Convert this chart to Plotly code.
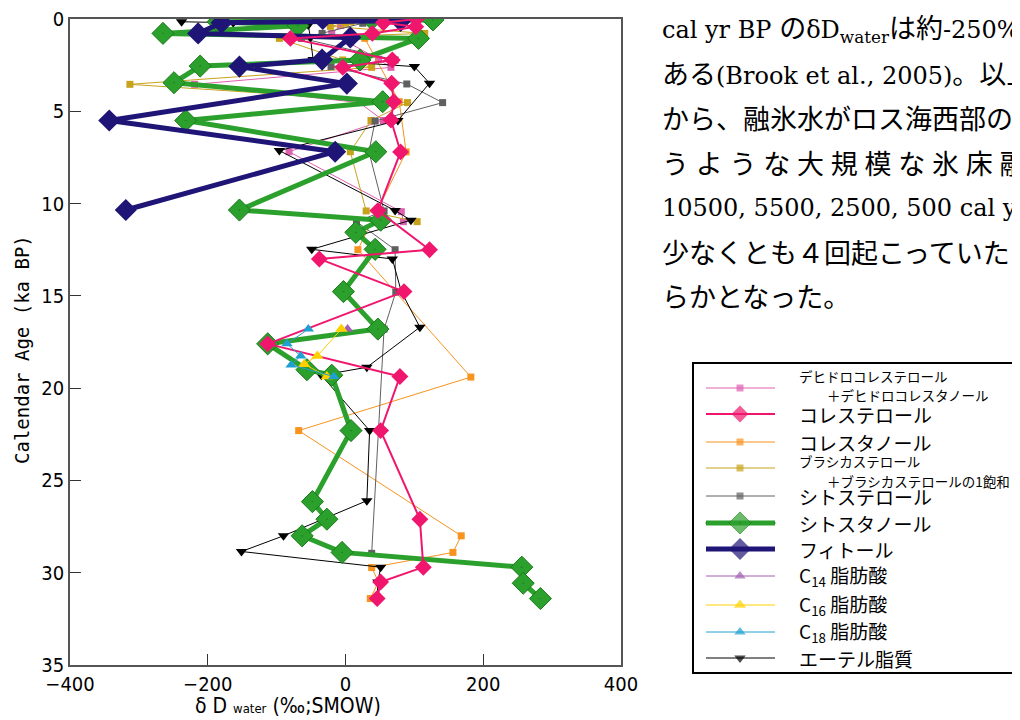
import plotly.graph_objects as go

# ---------------- data (age ka BP, dD water permil) ----------------
dehydro_age = [0.05, 0.35, 0.78, 2.18, 2.62, 3.54, 4.53, 5.5, 7.19, 10.44, 10.98]
dehydro_dD = [15, -7, -20, 48, 66, -219, 20, 55, -82, 81, 84]

cholesterol_age = [0.0, 0.2, 0.42, 0.78, 1.05, 2.22, 2.62, 3.48, 4.48, 5.47, 7.2, 10.38,
                   12.5, 13.0, 14.77, 17.6, 19.37, 22.3, 27.1, 29.7, 30.5, 31.4]
cholesterol_dD = [103, 55, 102, 39, -80, 68, -4, 67, 70, 66, 80, 47,
                  122, -38, 85, -113, 79, 51, 108, 113, 51, 46]

cholestanol_age = [1.05, 4.48, 7.2, 12.5, 19.4, 22.3, 28.0, 28.9, 29.72, 30.5, 31.4]
cholestanol_dD = [28, 78, 88, 18, 182, -68, 168, 156, 38, 48, 36]

brassica_age = [0.0, 0.15, 0.23, 0.4, 0.78, 1.05, 2.22, 2.62, 3.54, 4.53, 5.5, 7.19, 10.4, 10.98]
brassica_dD = [-21, 8, 0, -22, 115, -96, -4, 38, -313, 90, 37, 7, 30, 104]

sitosterol_age = [0.23, 0.78, 1.05, 2.22, 2.58, 3.52, 4.53, 5.53, 7.19, 10.4, 10.98, 12.5, 14.8, 16.8, 28.95]
sitosterol_dD = [25, -34, -64, 72, -21, 89, 141, 43, 34, 56, 16, 72, 73, 56, 38]

sitostanol_age = [0.0, 0.05, 0.15, 0.36, 0.78, 1.05, 2.22, 2.55, 3.45, 4.48, 5.5, 7.19, 10.35, 10.9,
                  11.56, 12.48, 14.77, 16.8, 17.6, 19.0, 19.3, 22.3, 26.15, 27.1, 28.0, 28.9, 29.7, 30.57, 31.4]
sitostanol_dD = [38, 127, -185, -69, -265, 106, 21, -211, -249, 54, -232, 44, -154, 51,
                 15, 43, -3, 47, -113, -56, -20, 8, -48, -27, -63, -5, 256, 258, 283]

phytol_age = [0.0, 0.1, 0.2, 0.78, 1.0, 2.2, 2.58, 3.5, 5.5, 7.19, 10.35]
phytol_dD = [-33, 80, -180, -214, 7, -34, -154, 2, -343, -15, -319]

c14_age = [16.8]
c14_dD = [3]

c16_age = [16.8, 18.26, 18.7, 19.37]
c16_dD = [-6, -41, -60, -27]

c18_age = [16.8, 17.6, 18.26, 18.74, 19.37]
c18_dD = [-54, -85, -65, -79, -17]

ether_age = [0.15, 0.2, 0.33, 1.0, 2.2, 2.58, 3.48, 5.5, 7.13, 10.38, 10.9, 12.48, 13.0, 14.77,
             16.7, 18.87, 19.3, 22.3, 26.1, 28.0, 28.85, 29.7, 30.5, 31.4]
ether_dD = [-238, -163, -54, -51, -47, 100, 122, 76, -96, 72, 95, -49, 68, 81,
            108, 31, -35, 35, 31, -90, -151, 51, 47, 46]

x_ticks = [-400, -200, 0, 200, 400]
x_ticktext = ["\u2212400", "\u2212200", "0", "200", "400"]
y_ticks = [0, 5, 10, 15, 20, 25, 30, 35]

legend_labels = [
    ("デヒドロコレステロール", "＋デヒドロコレスタノール"),
    ("コレステロール", None),
    ("コレスタノール", None),
    ("ブラシカステロール", "＋ブラシカステロールの1飽和"),
    ("シトステロール", None),
    ("シトスタノール", None),
    ("フィトール", None),
    ("C<sub>14</sub> 脂肪酸", None),
    ("C<sub>16</sub> 脂肪酸", None),
    ("C<sub>18</sub> 脂肪酸", None),
    ("エーテル脂質", None),
]

J = "<span style='font-size:27px'>{}</span>"
body_lines = [
    ("cal yr BP " + J.format("の") + "δD<sub>water</sub>" + J.format("は約") + "-250‰" + J.format("であった"), 24),
    (J.format("ある") + "(Brook et al., 2005)" + J.format("。以上の"), 24),
    ("から、融氷水がロス海西部の表層", 27),
    ("う\u2005よ\u2005う\u2005な\u2005大\u2005規\u2005模\u2005な\u2005氷\u2005床\u2005融\u2005解", 27),
    ("10500, 5500, 2500, 500 cal yr BP", 24),
    ("少なくとも４回起こっていたことが", 27),
    ("らかとなった。", 27),
]

# ---------------- styles ----------------
series = [
    ("dehydro", dehydro_dD, dehydro_age, "#e060b0", 1, "square", 7),
    ("cholestanol", cholestanol_dD, cholestanol_age, "#f7931e", 1, "square", 7),
    ("brassica", brassica_dD, brassica_age, "#c9a21c", 1, "square", 7),
    ("sitosterol", sitosterol_dD, sitosterol_age, "#606060", 1, "square", 7),
    ("ether", ether_dD, ether_age, "#000000", 1, "triangle-down", 10),
    ("sitostanol", sitostanol_dD, sitostanol_age, "#2ca02c", 5, "diamond-dot", 17),
    ("phytol", phytol_dD, phytol_age, "#1f1577", 5, "diamond", 17),
    ("cholesterol", cholesterol_dD, cholesterol_age, "#f0166e", 2, "diamond", 13),
    ("c14", c14_dD, c14_age, "#a060b0", 1, "triangle-up", 10),
    ("c16", c16_dD, c16_age, "#ffd000", 1, "triangle-up", 11),
    ("c18", c18_dD, c18_age, "#20a0d0", 1, "triangle-up", 10),
]
style = {s[0]: s for s in series}

fig = go.Figure()
for name, xs, ys, col, lw, sym, sz in series:
    mline = dict(color="#1a7a1a", width=1) if name == "sitostanol" else dict(width=0)
    fig.add_trace(go.Scatter(
        x=xs, y=ys, mode="lines+markers", name=name, showlegend=False,
        line=dict(color=col, width=lw),
        marker=dict(symbol=sym, size=sz, color=col, line=mline),
        xaxis="x", yaxis="y"))

# ---------------- custom legend (on its own axes) ----------------
legend_order = ["dehydro", "cholesterol", "cholestanol", "brassica", "sitosterol",
                "sitostanol", "phytol", "c14", "c16", "c18", "ether"]
legend_y = [26, 52, 80, 106, 134, 161, 187, 214, 243, 270, 296]
for key, ly in zip(legend_order, legend_y):
    _, _, _, col, lw, sym, sz = style[key]
    mline = dict(color="#1a7a1a", width=1) if key == "sitostanol" else dict(width=0)
    fig.add_trace(go.Scatter(
        x=[14, 48, 83], y=[ly, ly, ly], mode="lines+markers", showlegend=False,
        line=dict(color=col, width=lw),
        marker=dict(symbol=sym, size=[0, sz, 0], color=col, line=mline),
        xaxis="x2", yaxis="y2", hoverinfo="skip"))

# page offset: the browser page has an 8px body margin
OFF = 8
W, H = 1020 - OFF, 720 - OFF
L, R, T, B = 62, 2, 11, 45
pw, ph = W - L - R, H - T - B


def px_x(p):
    return (p - OFF - L) / pw


def px_y(p):
    return (H - B - (p - OFF)) / ph


annotations = []
two_line_offsets = {"dehydro": (-12, 7), "brassica": (-7, 13)}
for key, ly, (lab1, lab2) in zip(legend_order, legend_y, legend_labels):
    if lab2 is None:
        annotations.append(dict(
            x=105, y=ly, xref="x2", yref="y2", text=lab1,
            showarrow=False, xanchor="left", yanchor="middle",
            font=dict(family="Noto Sans CJK JP", size=19, color="#000")))
    else:
        o1, o2 = two_line_offsets[key]
        annotations.append(dict(
            x=105, y=ly + o1, xref="x2", yref="y2", text=lab1,
            showarrow=False, xanchor="left", yanchor="middle",
            font=dict(family="Noto Sans CJK JP", size=13.5, color="#000")))
        annotations.append(dict(
            x=133, y=ly + o2, xref="x2", yref="y2", text=lab2,
            showarrow=False, xanchor="left", yanchor="middle",
            font=dict(family="Noto Sans CJK JP", size=13.5, color="#000")))

narrow = "Liberation Sans Narrow, DejaVu Sans Condensed, Roboto"

# axis titles
annotations.append(dict(
    x=px_x(22), y=px_y(350), xref="paper", yref="paper", text="Calendar Age (ka BP)",
    showarrow=False, textangle=-90, xanchor="center", yanchor="middle",
    font=dict(family="DejaVu Sans Mono", size=19, color="#000")))
annotations.append(dict(
    x=px_x(288), y=px_y(706), xref="paper", yref="paper",
    text="δ D <span style='font-size:13px'>water</span> (‰;SMOW)",
    showarrow=False, xanchor="center", yanchor="middle",
    font=dict(family=narrow, size=21, color="#000")))

# body text on the right
line_y = [30, 75, 119, 164, 208, 253, 297]
for (txt, fs), py in zip(body_lines, line_y):
    annotations.append(dict(
        x=px_x(660), y=px_y(py), xref="paper", yref="paper",
        text=txt, showarrow=False, xanchor="left", yanchor="middle", align="left",
        font=dict(family="DejaVu Serif, Noto Sans CJK JP", size=fs, color="#000")))

axis_font = dict(family=narrow, size=20, color="#000")

fig.update_layout(
    width=W, height=H,
    margin=dict(l=L, r=R, t=T, b=B, autoexpand=False),
    paper_bgcolor="white", plot_bgcolor="white",
    showlegend=False,
    xaxis=dict(domain=[0, px_x(621)], range=[-400, 400], tickvals=x_ticks,
               ticktext=x_ticktext, automargin=False, ticklabeloverflow="allow",
               ticks="inside", ticklen=11, tickwidth=1, tickcolor="#333",
               showline=True, linecolor="#555", linewidth=1.5, mirror=True,
               showgrid=False, zeroline=False, tickfont=axis_font),
    yaxis=dict(domain=[px_y(665), 1], range=[35, 0], tickvals=y_ticks, automargin=False,
               ticklabeloverflow="allow",
               ticks="inside", ticklen=11, tickwidth=1, tickcolor="#333",
               showline=True, linecolor="#555", linewidth=1.5, mirror=True,
               showgrid=False, zeroline=False, tickfont=axis_font),
    xaxis2=dict(domain=[px_x(692), 1.0], range=[0, 326], visible=False,
                fixedrange=True, anchor="y2", automargin=False),
    yaxis2=dict(domain=[0, px_y(362)], range=[313, 0], visible=False,
                fixedrange=True, anchor="x2", automargin=False),
    shapes=[dict(type="rect", xref="x2", yref="y2", x0=1, x1=325, y0=1, y1=311,
                 line=dict(color="#000", width=2), fillcolor="rgba(0,0,0,0)")],
    annotations=annotations,
)

fig.write_html("out.html")
